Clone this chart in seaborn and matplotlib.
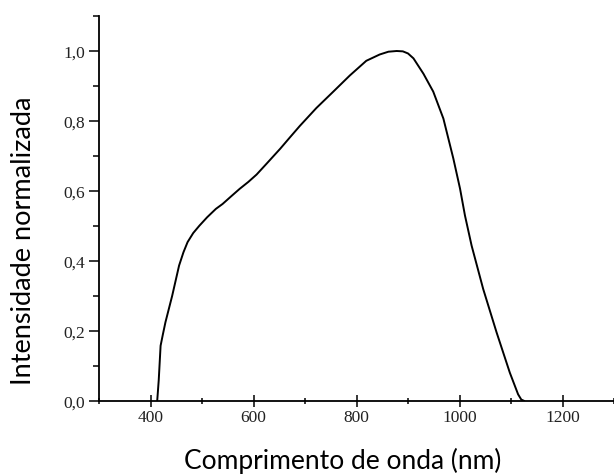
import matplotlib
matplotlib.use("Agg")
import matplotlib.pyplot as plt
import matplotlib.ticker as mticker
import seaborn as sns
import pandas as pd

wavelength = [413, 416, 419.6, 424, 429, 442, 455.5, 464, 472, 483, 495, 510, 527, 540,
              556, 573, 590, 606, 626, 652, 670, 690, 722, 755, 787, 819, 845, 862, 878,
              890, 900, 910.6, 930, 949, 968.7, 988, 1001, 1010.6, 1023.5, 1046, 1072,
              1097.7, 1113.8, 1120, 1126]
intensity = [0.0, 0.06, 0.158, 0.19, 0.225, 0.30, 0.387, 0.425, 0.454, 0.48, 0.501, 0.525,
             0.549, 0.563, 0.584, 0.606, 0.626, 0.647, 0.679, 0.721, 0.752, 0.786, 0.837,
             0.884, 0.93, 0.972, 0.99, 0.998, 1.0, 0.999, 0.993, 0.979, 0.935, 0.884,
             0.807, 0.693, 0.607, 0.530, 0.444, 0.320, 0.196, 0.081, 0.019, 0.004, 0.0]

x_major = [400, 600, 800, 1000, 1200]
y_major = [0.0, 0.2, 0.4, 0.6, 0.8, 1.0]

df = pd.DataFrame({"wl": wavelength, "I": intensity})

sns.set_theme(style="white")
plt.rcParams["font.family"] = ["Liberation Serif", "DejaVu Serif"]

W, H = 614, 477
fig = plt.figure(figsize=(W / 100, H / 100), dpi=100)
ax = fig.add_axes([99 / W, 1 - 402 / H, (W - 99) / W, (402 - 17) / H])

sns.lineplot(data=df, x="wl", y="I", ax=ax, color="black", linewidth=1.4)

ax.set_xlim(300, 1300)
ax.set_ylim(0, 1.1)
ax.set_xticks(x_major)
ax.set_yticks(y_major)
ax.xaxis.set_minor_locator(mticker.MultipleLocator(100))
ax.yaxis.set_minor_locator(mticker.MultipleLocator(0.1))
ax.yaxis.set_major_formatter(mticker.FuncFormatter(lambda v, p: f"{v:.1f}".replace(".", ",")))

for s in ["top", "right"]:
    ax.spines[s].set_visible(False)
for s in ["left", "bottom"]:
    ax.spines[s].set_color("black")
    ax.spines[s].set_linewidth(1.3)

ax.tick_params(axis="x", which="major", direction="inout", length=8, width=1.1, color="black",
               labelsize=12.5, pad=2, labelcolor="#222222")
ax.tick_params(axis="x", which="minor", direction="inout", length=5, width=1.1, color="black")
ax.tick_params(axis="y", which="major", direction="out", length=7, width=1.1, color="black",
               labelsize=12.5, pad=3, labelcolor="#222222")
ax.tick_params(axis="y", which="minor", direction="out", length=4, width=1.1, color="black")
ax.tick_params(bottom=True, left=True, which="both")
ax.set_xlabel("")
ax.set_ylabel("")

fig.text(343 / W, 1 - 469 / H, "Comprimento de onda (nm)", family=["Lato", "DejaVu Sans"],
         fontsize=19, ha="center", va="baseline", color="black")
fig.text(24 / W, 1 - 241 / H, "Intensidade normalizada", family=["Lato", "DejaVu Sans"],
         fontsize=19.5, ha="center", va="center", rotation=90, color="black")

fig.savefig("out.png", dpi=100)
